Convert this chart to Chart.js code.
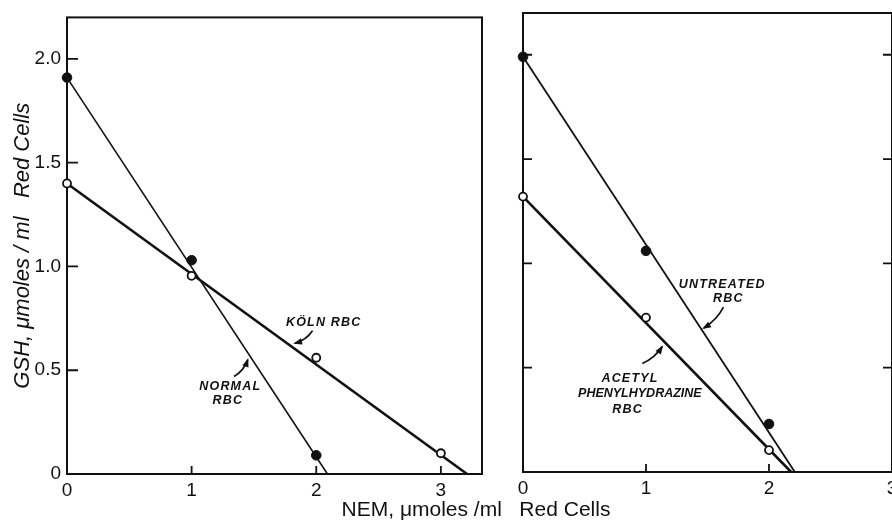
<!DOCTYPE html>
<html><head><meta charset="utf-8">
<script src="https://cdn.jsdelivr.net/npm/chart.js@4.4.1/dist/chart.umd.min.js"></script>
<style>
html,body{margin:0;padding:0;background:#fff;width:892px;height:525px;overflow:hidden;position:relative;}
#c1{position:absolute;left:0;top:0;}
#c2{position:absolute;left:500px;top:0;}
#xt{position:absolute;left:0;width:952px;top:497px;text-align:center;font:21px "Liberation Sans",Arial,sans-serif;color:#111;white-space:pre;}
</style></head><body>
<canvas id="c1" width="500" height="525"></canvas>
<canvas id="c2" width="420" height="525"></canvas>
<div id="xt">NEM, μmoles /ml   Red Cells</div>
<script>
// ---- tick labels ----
const xTickValues = [0, 1, 2, 3];
const xTickLabels = ['0', '1', '2', '3'];
const yTickValues = [0, 0.5, 1, 1.5, 2];
const yTickLabels = ['0', '0.5', '1.0', '1.5', '2.0'];

// ---- left panel data ----
const nemNormal = [0, 1, 2];
const gshNormal = [1.91, 1.03, 0.09];
const nemKoln = [0, 1, 2, 3];
const gshKoln = [1.40, 0.955, 0.56, 0.10];
const normalFitX = [0, 2.09];
const normalFitY = [1.91, 0];
const kolnFitX = [0, 3.21];
const kolnFitY = [1.40, 0];

// ---- right panel data ----
const nemUntreated = [0, 1, 2];
const gshUntreated = [1.99, 1.06, 0.23];
const nemAcetyl = [0, 1, 2];
const gshAcetyl = [1.32, 0.74, 0.105];
const untreatedFitX = [0, 2.21];
const untreatedFitY = [1.99, 0];
const acetylFitX = [0, 2.18];
const acetylFitY = [1.32, 0];

const INK = '#111';
const FONT = '"Liberation Sans", Arial, Helvetica, sans-serif';

function pts(xs, ys) { return xs.map((x, i) => ({x: x, y: ys[i]})); }

function pointSet(xs, ys, filled) {
  return {
    type: 'scatter', data: pts(xs, ys), showLine: false, clip: false,
    pointRadius: filled ? 4.8 : 4, pointHoverRadius: filled ? 4.8 : 4,
    pointBackgroundColor: filled ? INK : '#fff', pointBorderColor: INK,
    pointBorderWidth: filled ? 1 : 1.8, order: 0
  };
}
function lineSet(xs, ys, w) {
  return {
    type: 'line', data: pts(xs, ys), showLine: true, clip: false,
    borderColor: INK, borderWidth: w, pointRadius: 0, fill: false, tension: 0, order: 1
  };
}

const framePlugin = {
  id: 'frame',
  beforeDatasetsDraw(chart, args, o) {
    const {ctx, chartArea: a, scales: {x, y}} = chart;
    ctx.save();
    ctx.strokeStyle = INK;
    ctx.lineWidth = 2;
    ctx.strokeRect(a.left, a.top, a.right - a.left, a.bottom - a.top);
    ctx.lineWidth = 1.8;
    ctx.beginPath();
    (o.left || []).forEach(v => { const p = y.getPixelForValue(v); ctx.moveTo(a.left, p); ctx.lineTo(a.left + o.len, p); });
    (o.right || []).forEach(v => { const p = y.getPixelForValue(v); ctx.moveTo(a.right, p); ctx.lineTo(a.right - o.len, p); });
    (o.bottom || []).forEach(v => { const p = x.getPixelForValue(v); ctx.moveTo(p, a.bottom); ctx.lineTo(p, a.bottom - o.lenB); });
    ctx.stroke();
    ctx.restore();
  },
  afterDraw(chart, args, o) {
    const {ctx, scales: {x, y}} = chart;
    ctx.save();
    ctx.fillStyle = INK; ctx.strokeStyle = INK;
    ctx.font = 'italic bold 12.5px ' + FONT;
    ctx.textAlign = 'center'; ctx.textBaseline = 'middle';
    (o.notes || []).forEach(n => {
      n.lines.forEach((t, i) => {
        if ('letterSpacing' in ctx) ctx.letterSpacing = (n.spacing ? n.spacing[i] : 1.2) + 'px';
        ctx.fillText(t, x.getPixelForValue(n.at[i][0]), y.getPixelForValue(n.at[i][1]));
      });
      // curved arrow
      const sx = x.getPixelForValue(n.from[0]), sy = y.getPixelForValue(n.from[1]);
      const ex = x.getPixelForValue(n.to[0]), ey = y.getPixelForValue(n.to[1]);
      const mx = (sx + ex) / 2, my = (sy + ey) / 2;
      const dx = ex - sx, dy = ey - sy, L = Math.hypot(dx, dy);
      const cx = mx - dy / L * n.bend, cy = my + dx / L * n.bend;
      ctx.lineWidth = 1.7;
      ctx.beginPath(); ctx.moveTo(sx, sy); ctx.quadraticCurveTo(cx, cy, ex, ey); ctx.stroke();
      const ang = Math.atan2(ey - cy, ex - cx);
      const h = 7, w = 3.2;
      ctx.beginPath();
      ctx.moveTo(ex + Math.cos(ang) * 2, ey + Math.sin(ang) * 2);
      ctx.lineTo(ex - Math.cos(ang) * h - Math.sin(ang) * w, ey - Math.sin(ang) * h + Math.cos(ang) * w);
      ctx.lineTo(ex - Math.cos(ang) * h + Math.sin(ang) * w, ey - Math.sin(ang) * h - Math.cos(ang) * w);
      ctx.closePath(); ctx.fill();
    });
    ctx.restore();
  }
};

function baseOptions(cfg) {
  return {
    responsive: false, animation: false, devicePixelRatio: 1,
    layout: {padding: cfg.padding},
    plugins: {legend: {display: false}, tooltip: {enabled: false}, frame: cfg.frame},
    scales: {
      x: {
        type: 'linear', min: 0, max: cfg.xmax,
        afterFit(s) { s.height = cfg.xh; },
        afterBuildTicks(s) { s.ticks = xTickValues.map(v => ({value: v})); },
        grid: {display: false, drawTicks: false}, border: {display: false},
        ticks: {autoSkip: false, maxRotation: 0, padding: 5, color: INK,
          font: {size: 19, family: FONT},
          callback: v => xTickLabels[xTickValues.indexOf(v)]}
      },
      y: {
        type: 'linear', min: 0, max: 2.2,
        afterFit(s) { s.width = cfg.yw; },
        afterBuildTicks(s) { s.ticks = yTickValues.map(v => ({value: v})); },
        grid: {display: false, drawTicks: false}, border: {display: false},
        ticks: {display: cfg.yLabels, autoSkip: false, padding: 6, color: INK,
          font: {size: 19, family: FONT},
          callback: v => yTickLabels[yTickValues.indexOf(v)]},
        title: {display: cfg.yLabels, text: 'GSH, μmoles / ml   Red Cells', color: INK,
          font: {size: 22, style: 'italic', family: FONT}, padding: {top: 10, bottom: 0}}
      }
    }
  };
}

new Chart(document.getElementById('c1'), {
  data: {datasets: [
    lineSet(normalFitX, normalFitY, 1.6),
    lineSet(kolnFitX, kolnFitY, 2.6),
    pointSet(nemNormal, gshNormal, true),
    pointSet(nemKoln, gshKoln, false)
  ]},
  options: baseOptions({
    padding: {top: 15, right: 18, left: 0, bottom: 0}, xmax: 3.33, xh: 51, yw: 67, yLabels: true,
    frame: {len: 11, lenB: 8, left: [0.5, 1, 1.5, 2], bottom: [1, 2, 3],
      notes: [
        {lines: ['KÖLN RBC'], at: [[2.06, 0.73]], from: [1.97, 0.69], to: [1.83, 0.63], bend: -4},
        {lines: ['NORMAL', 'RBC'], at: [[1.31, 0.42], [1.29, 0.355]], from: [1.34, 0.47], to: [1.45, 0.55], bend: 4}
      ]}
  }),
  plugins: [framePlugin]
});

new Chart(document.getElementById('c2'), {
  data: {datasets: [
    lineSet(untreatedFitX, untreatedFitY, 1.8),
    lineSet(acetylFitX, acetylFitY, 2.6),
    pointSet(nemUntreated, gshUntreated, true),
    pointSet(nemAcetyl, gshAcetyl, false)
  ]},
  options: baseOptions({
    padding: {top: 13, right: 28, left: 0, bottom: 0}, xmax: 3.0, xh: 53, yw: 23, yLabels: false,
    frame: {len: 9, lenB: 8, left: [0.5, 1, 1.5, 2], right: [0.5, 1, 1.5, 2], bottom: [1, 2],
      notes: [
        {lines: ['UNTREATED', 'RBC'], at: [[1.62, 0.90], [1.67, 0.83]], from: [1.63, 0.79], to: [1.47, 0.69], bend: -4},
        {lines: ['ACETYL', 'PHENYLHYDRAZINE', 'RBC'], at: [[0.87, 0.448], [0.95, 0.375], [0.85, 0.30]], spacing: [1.2, 0, 1.2], from: [0.97, 0.52], to: [1.13, 0.60], bend: 4}
      ]}
  }),
  plugins: [framePlugin]
});
</script>
</body></html>
